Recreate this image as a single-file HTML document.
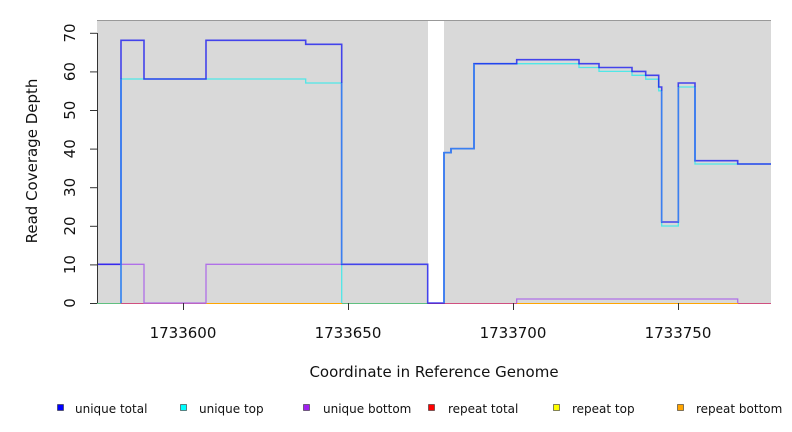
<!DOCTYPE html>
<html><head><meta charset="utf-8"><style>
body{margin:0;background:#fff;}
svg{display:block;font-family:"DejaVu Sans","Liberation Sans",sans-serif;}
</style></head><body>
<svg width="792" height="432" viewBox="0 0 792 432">
<rect x="97" y="20" width="331" height="283" fill="#d9d9d9"/>
<rect x="444" y="20" width="327" height="283" fill="#d9d9d9"/>
<line x1="97" y1="20.5" x2="771" y2="20.5" stroke="#999" stroke-width="1"/>
<line x1="97" y1="303.5" x2="771" y2="303.5" stroke="#d05080" stroke-width="1"/>
<line x1="97" y1="303.5" x2="121" y2="303.5" stroke="#60c080" stroke-width="1"/>
<line x1="342" y1="303.5" x2="428" y2="303.5" stroke="#60c080" stroke-width="1"/>
<line x1="144" y1="303.5" x2="206" y2="303.5" stroke="#d05080" stroke-width="1"/>
<line x1="206" y1="303.5" x2="342" y2="303.5" stroke="#ffa500" stroke-width="1"/>
<line x1="517" y1="303.5" x2="738" y2="303.5" stroke="#ffa500" stroke-width="1"/>
<!-- bottom purple -->
<polyline fill="none" stroke="#b070e8" stroke-width="1.3" points="97,264.3 144,264.3 144,303 206,303 206,264.3 341.7,264.3"/>
<polyline fill="none" stroke="#b070e8" stroke-width="1.3" points="516.7,303 516.7,299 737.7,299 737.7,303"/>
<!-- cyan top -->
<polyline fill="none" stroke="#40e8e8" stroke-width="1.3" opacity="0.9" points="121,303 121,79 305.7,79 305.7,83 341.7,83 341.7,303"/>
<polyline fill="none" stroke="#40e8e8" stroke-width="1.3" opacity="0.9" points="444,303 444,152.7 451,152.7 451,148.7 474,148.7 474,63.7 516.7,63.7 516.7,63.7 579,63.7 579,67.5 599,67.5 599,71.4 632,71.4 632,75.3 645.7,75.3 645.7,79.2 658.7,79.2 658.7,90.8 661.7,90.8 661.7,226 678.3,226 678.3,87 695,87 695,164 771,164"/>
<!-- total blue -->
<polyline fill="none" stroke="#1010f0" stroke-width="1.6" opacity="0.75" points="97,264.3 121,264.3 121,40.3 144,40.3 144,79 206,79 206,40.3 305.7,40.3 305.7,44.3 341.7,44.3 341.7,264.3 427.7,264.3 427.7,303 444,303 444,152.7 451,152.7 451,148.7 474,148.7 474,63.7 516.7,63.7 516.7,59.7 579,59.7 579,63.7 599,63.7 599,67.5 632,67.5 632,71.4 645.7,71.4 645.7,75.3 658.7,75.3 658.7,87 661.7,87 661.7,222 678.3,222 678.3,83 695,83 695,160.7 737.7,160.7 737.7,164 771,164"/>
<path d="M121,303V79M341.7,83V264.3M444,303V152.7H451V148.7H474V63.7M661.7,90.8V222M678.3,222V87M695,87V160.7" stroke="#3a80f0" stroke-width="1.6" fill="none"/>
<!-- axes -->
<line x1="97.5" y1="33" x2="97.5" y2="303" stroke="#333"/>
<g stroke="#333">
<line x1="90" y1="303.5" x2="97" y2="303.5"/><line x1="90" y1="264.9" x2="97" y2="264.9"/><line x1="90" y1="226.3" x2="97" y2="226.3"/><line x1="90" y1="187.7" x2="97" y2="187.7"/><line x1="90" y1="149.1" x2="97" y2="149.1"/><line x1="90" y1="110.5" x2="97" y2="110.5"/><line x1="90" y1="71.9" x2="97" y2="71.9"/><line x1="90" y1="33.3" x2="97" y2="33.3"/>
<line x1="183.5" y1="303" x2="183.5" y2="310"/><line x1="348.5" y1="303" x2="348.5" y2="310"/><line x1="513.5" y1="303" x2="513.5" y2="310"/><line x1="678.5" y1="303" x2="678.5" y2="310"/>
</g>
<g font-size="15" fill="#111" text-anchor="middle">
<text transform="translate(75,303) rotate(-90)">0</text>
<text transform="translate(75,264.6) rotate(-90)">10</text>
<text transform="translate(75,226) rotate(-90)">20</text>
<text transform="translate(75,187.4) rotate(-90)">30</text>
<text transform="translate(75,148.8) rotate(-90)">40</text>
<text transform="translate(75,110.2) rotate(-90)">50</text>
<text transform="translate(75,71.6) rotate(-90)">60</text>
<text transform="translate(75,33) rotate(-90)">70</text>
<text x="183" y="338">1733600</text><text x="348" y="338">1733650</text><text x="513" y="338">1733700</text><text x="678" y="338">1733750</text>
<text x="434" y="377">Coordinate in Reference Genome</text>
<text transform="translate(37,161) rotate(-90)">Read Coverage Depth</text>
</g>
<g font-size="12" fill="#111" stroke="#333" stroke-width="0.6">
<rect x="57.5" y="404.5" width="6" height="6" fill="#0000ff"/>
<rect x="180.5" y="404.5" width="6" height="6" fill="#00ffff"/>
<rect x="303.5" y="404.5" width="6" height="6" fill="#a020f0"/>
<rect x="428.5" y="404.5" width="6" height="6" fill="#ff0000"/>
<rect x="553.5" y="404.5" width="6" height="6" fill="#ffff00"/>
<rect x="677.5" y="404.5" width="6" height="6" fill="#ffa500"/>
</g>
<g font-size="12" fill="#111">
<text x="75" y="413">unique total</text>
<text x="199" y="413">unique top</text>
<text x="323" y="413">unique bottom</text>
<text x="448" y="413">repeat total</text>
<text x="572" y="413">repeat top</text>
<text x="696" y="413">repeat bottom</text>
</g>
</svg>
</body></html>
